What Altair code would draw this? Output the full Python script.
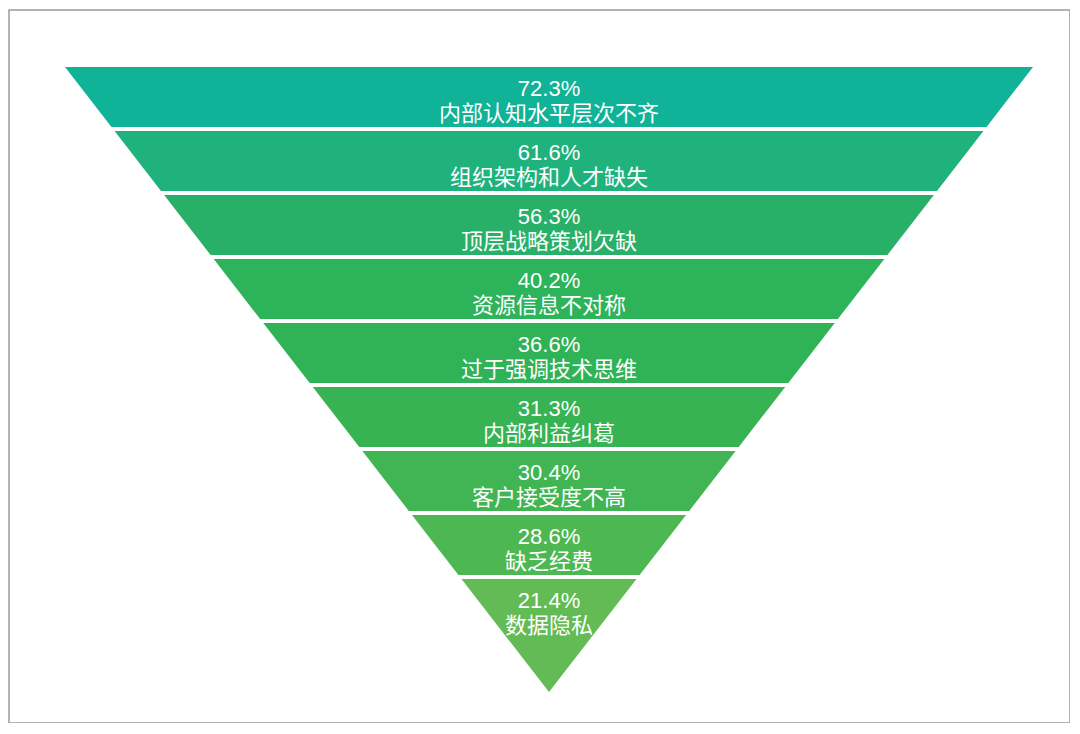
import altair as alt
import pandas as pd

labels = ["内部认知水平层次不齐", "组织架构和人才缺失", "顶层战略策划欠缺", "资源信息不对称",
          "过于强调技术思维", "内部利益纠葛", "客户接受度不高", "缺乏经费", "数据隐私"]
values = [72.3, 61.6, 56.3, 40.2, 36.6, 31.3, 30.4, 28.6, 21.4]
colors = ["#10b298", "#1fb27c", "#29b068", "#2db35a", "#30b257",
          "#37b354", "#41b553", "#4db852", "#63bb55"]

# layout (in plot-area pixels)
W, H = 1061, 713
CX = 540
HALF_TOP = 484
TOP, APEX = 57, 682
PITCH, BAND_H = 64, 60

def half_width(y):
    return HALF_TOP * (APEX - y) / (APEX - TOP)

rows = []
txt = []
n = len(labels)
for i, (lab, v) in enumerate(zip(labels, values)):
    t = TOP + i * PITCH
    b = t + BAND_H if i < n - 1 else APEX
    for yy in (t, b):
        hw = half_width(yy)
        rows.append({"label": lab, "y": yy, "xl": CX - hw, "xr": CX + hw})
    txt.append({"label": lab, "pct": f"{v}%", "cx": CX, "y1": t + 22, "y2": t + 47})

area_df = pd.DataFrame(rows)
text_df = pd.DataFrame(txt)

xs = alt.Scale(domain=[0, W], nice=False, zero=False)
ys = alt.Scale(domain=[0, H], nice=False, zero=False, reverse=True)

bands = alt.Chart(area_df).mark_area(orient="horizontal", opacity=1).encode(
    y=alt.Y("y:Q", scale=ys, axis=None),
    x=alt.X("xl:Q", scale=xs, axis=None),
    x2="xr:Q",
    color=alt.Color("label:N", scale=alt.Scale(domain=labels, range=colors), legend=None),
    detail="label:N",
)

FONT = "Liberation Sans, Noto Sans CJK SC, sans-serif"
pct = alt.Chart(text_df).mark_text(color="white", fontSize=22, font=FONT, baseline="middle").encode(
    x=alt.X("cx:Q", scale=xs, axis=None),
    y=alt.Y("y1:Q", scale=ys, axis=None),
    text="pct:N",
)
lab = alt.Chart(text_df).mark_text(color="white", fontSize=22, font=FONT, baseline="middle").encode(
    x=alt.X("cx:Q", scale=xs, axis=None),
    y=alt.Y("y2:Q", scale=ys, axis=None),
    text="label:N",
)

chart = alt.layer(bands, pct, lab).properties(
    width=W, height=H,
    autosize=alt.AutoSizeParams(type="none"),
    padding={"left": 1, "top": 2, "right": 0, "bottom": 0},
    background="white",
).configure_view(stroke="#9a9a9a", strokeWidth=1.5)

chart.save("out.html", embed_options={"renderer": "svg", "actions": False})
